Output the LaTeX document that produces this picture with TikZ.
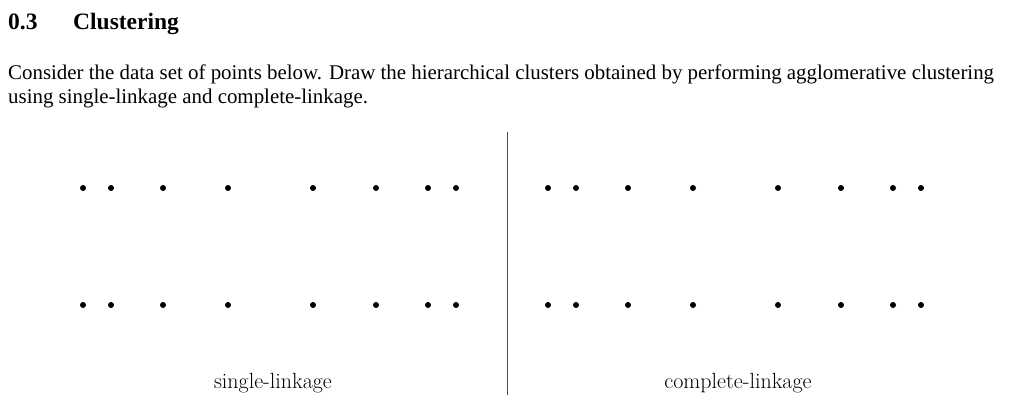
\documentclass[tikz,border=0pt]{standalone}
\usepackage{fontspec}
\setmainfont{Liberation Serif}
\newfontfamily\lmfont{Latin Modern Roman}
\begin{document}
\begin{tikzpicture}[x=1pt,y=-1pt,
  dot/.style={circle,fill=black,inner sep=0pt,minimum size=6pt},
  body/.style={anchor=base west,inner sep=0pt,font=\fontsize{20.9}{24}\selectfont},
  lab/.style={anchor=base,inner sep=0pt,font=\lmfont\fontsize{22}{26}\selectfont}]
\useasboundingbox[fill=white] (0,0) rectangle (1024,411);
\node[body,font=\bfseries\fontsize{23.5}{28}\selectfont] (num) at (8,30) {0.3};
\node[body,font=\bfseries\fontsize{23.5}{28}\selectfont] (head) at (73,30) {Clustering};
\node[body] (p1) at (8,80) {Consider the data set of points below. Draw the hierarchical clusters obtained by performing agglomerative clustering};
\node[body] (p2) at (8,104) {using single-linkage and complete-linkage.};
\foreach \x [count=\i] in {83,111,163,228,313,376,428,456}{
  \node[dot] (lt\i) at (\x,188) {};
  \node[dot] (lb\i) at (\x,305) {};
  \node[dot] (rt\i) at (\x+465,188) {};
  \node[dot] (rb\i) at (\x+465,305) {};
}
\coordinate (vt) at (507,132);
\coordinate (vb) at (507,395);
\draw[line width=0.8pt,black!70] (vt) -- (vb);
\node[lab] (l1) at (273,388) {single-linkage};
\node[lab] (l2) at (738,388) {complete-linkage};
\end{tikzpicture}
\end{document}
